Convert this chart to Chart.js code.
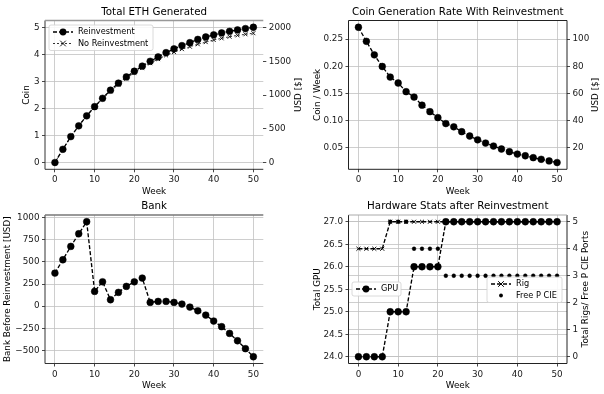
<!DOCTYPE html>
<html>
<head>
<meta charset="utf-8">
<script src="https://cdn.jsdelivr.net/npm/chart.js@4.4.0/dist/chart.umd.min.js"></script>
<style>
  html, body { margin: 0; padding: 0; background: #fff; }
  #wrap { position: relative; width: 604px; height: 394px; background: #fff; }
  canvas { position: absolute; }
</style>
</head>
<body>
<div id="wrap">
  <canvas id="ethChart" width="302" height="197" style="left:0;top:0"></canvas>
  <canvas id="rateChart" width="302" height="197" style="left:302px;top:0"></canvas>
  <canvas id="bankChart" width="302" height="197" style="left:0;top:197px"></canvas>
  <canvas id="hwChart" width="302" height="197" style="left:302px;top:197px"></canvas>
</div>
<script>
// ---- data ----
const weeks = [0, 2, 4, 6, 8, 10, 12, 14, 16, 18, 20, 22, 24, 26, 28, 30, 32, 34, 36, 38, 40, 42, 44, 46, 48, 50];

const ethReinvest = [0, 0.49, 0.96, 1.36, 1.73, 2.07, 2.38, 2.68, 2.94, 3.17, 3.38, 3.57, 3.75, 3.91, 4.07, 4.21,
  4.33, 4.44, 4.56, 4.65, 4.73, 4.80, 4.86, 4.91, 4.96, 5.01];
const ethNoReinvest = [0, 0.49, 0.96, 1.36, 1.72, 2.06, 2.36, 2.64, 2.89, 3.11, 3.33, 3.51, 3.68, 3.83, 3.97, 4.09,
  4.20, 4.29, 4.38, 4.46, 4.54, 4.60, 4.66, 4.71, 4.75, 4.79];

const rateReinvest = [0.272, 0.246, 0.221, 0.1995, 0.180, 0.169, 0.153, 0.143, 0.128, 0.116, 0.105, 0.094, 0.088,
  0.079, 0.071, 0.064, 0.058, 0.0525, 0.047, 0.042, 0.0377, 0.0345, 0.031, 0.028, 0.025, 0.022];

const bankUsd = [374, 525, 676, 819, 955, 167, 276, 73, 156, 224, 276, 318, 43, 54, 54, 43, 24, -10, -52, -101,
  -168, -232, -308, -391, -481, -572];

const gpuTotal = [24, 24, 24, 24, 25, 25, 25, 26, 26, 26, 26, 27, 27, 27, 27, 27, 27, 27, 27, 27, 27, 27, 27, 27, 27, 27];
const rigTotal = [4, 4, 4, 4, 5, 5, 5, 5, 5, 5, 5, 5, 5, 5, 5, 5, 5, 5, 5, 5, 5, 5, 5, 5, 5, 5];
const freePcie = [0, 0, 0, 0, 5, 5, 5, 4, 4, 4, 4, 3, 3, 3, 3, 3, 3, 3, 3, 3, 3, 3, 3, 3, 3, 3];

const usdPerEth = 400;

const weekTicks = [0, 10, 20, 30, 40, 50];
const coinTicks = [0, 1, 2, 3, 4, 5];
const usdTicks = [0, 500, 1000, 1500, 2000];
const rateTicks = [0.05, 0.10, 0.15, 0.20, 0.25];
const rateUsdTicks = [20, 40, 60, 80, 100];
const bankTicks = [-500, -250, 0, 250, 500, 750, 1000];
const gpuTicks = [24, 24.5, 25, 25.5, 26, 26.5, 27];
const rigTicks = [0, 1, 2, 3, 4, 5];

// ---- helpers ----
const FONT = "'DejaVu Sans', sans-serif";
const W = 302, H = 197;

function limits(...arrays) {
  const all = arrays.flat();
  const lo = Math.min(...all), hi = Math.max(...all);
  const m = (hi - lo) * 0.05;
  return [lo - m, hi + m];
}
function xy(vals) {
  return weeks.map((w, i) => ({ x: w, y: vals[i] }));
}
const plain = v => String(v);
const minus = v => (v < 0 ? '\u2212' + Math.abs(v) : String(v));

function axis(pos, ticks, lim, size, fmt, grid) {
  return {
    type: 'linear', position: pos, min: lim[0], max: lim[1],
    afterBuildTicks: s => { s.ticks = ticks.map(v => ({ value: v })); },
    afterFit: s => { if (s.isHorizontal()) s.height = size; else s.width = size; },
    grid: { display: true, drawOnChartArea: grid, color: '#c2c2c2', lineWidth: 0.8,
            tickLength: 3, tickColor: '#333', tickWidth: 0.9 },
    border: { display: false },
    ticks: { callback: fmt, font: { family: FONT, size: 8.8 }, color: '#1a1a1a',
             padding: 2.5, maxRotation: 0, autoSkip: false }
  };
}

function series(label, vals, extra) {
  return Object.assign({
    label: label, data: xy(vals), yAxisID: 'y',
    borderColor: '#000', backgroundColor: '#000', borderWidth: 1.35, borderDash: [4, 2],
    pointStyle: 'circle', pointRadius: 3.4, pointHoverRadius: 3.4,
    pointBackgroundColor: '#000', pointBorderColor: '#000', pointBorderWidth: 0.5, tension: 0
  }, extra || {});
}

function drawMarker(ctx, ds, x, y) {
  ctx.fillStyle = '#000';
  ctx.strokeStyle = '#000';
  const r = ds.pointRadius;
  ctx.beginPath();
  if (ds.pointStyle === 'crossRot') {
    ctx.lineWidth = ds.pointBorderWidth;
    ctx.setLineDash([]);
    ctx.moveTo(x - r, y - r); ctx.lineTo(x + r, y + r);
    ctx.moveTo(x - r, y + r); ctx.lineTo(x + r, y - r);
    ctx.stroke();
  } else {
    ctx.arc(x, y, r, 0, Math.PI * 2);
    ctx.fill();
  }
}

// title, axis labels, spines and in-plot legends, drawn like matplotlib
const decorPlugin = {
  id: 'decor',
  afterDraw(chart, args, o) {
    const ctx = chart.ctx;
    const a = chart.chartArea;
    ctx.save();

    // spines
    for (const side in o.spines) {
      const sp = o.spines[side];
      ctx.strokeStyle = sp[0];
      ctx.lineWidth = sp[1];
      ctx.setLineDash([]);
      ctx.beginPath();
      if (side === 'left') { ctx.moveTo(a.left, a.top); ctx.lineTo(a.left, a.bottom); }
      if (side === 'right') { ctx.moveTo(a.right, a.top); ctx.lineTo(a.right, a.bottom); }
      if (side === 'top') { ctx.moveTo(a.left, a.top); ctx.lineTo(a.right, a.top); }
      if (side === 'bottom') { ctx.moveTo(a.left, a.bottom); ctx.lineTo(a.right, a.bottom); }
      ctx.stroke();
    }

    const cx = (a.left + a.right) / 2, cy = (a.top + a.bottom) / 2;
    ctx.fillStyle = '#000';
    ctx.textAlign = 'center';
    ctx.textBaseline = 'middle';

    ctx.font = '10.3px ' + FONT;
    ctx.fillText(o.title, cx, a.top - 8.5);

    ctx.font = '8.8px ' + FONT;
    ctx.fillText('Week', cx, a.bottom + 22);

    ctx.save();
    ctx.translate(a.left - o.leftOff, cy);
    ctx.rotate(-Math.PI / 2);
    ctx.fillText(o.leftLabel, 0, 0);
    ctx.restore();

    if (o.rightLabel) {
      ctx.save();
      ctx.translate(a.right + o.rightOff, cy);
      ctx.rotate(-Math.PI / 2);
      ctx.fillText(o.rightLabel, 0, 0);
      ctx.restore();
    }

    // legends
    for (const lg of o.legends || []) {
      const h = 14 + (lg.items.length - 1) * 11.5;
      ctx.fillStyle = 'rgba(255,255,255,0.85)';
      ctx.strokeStyle = '#d0d0d0';
      ctx.lineWidth = 0.8;
      ctx.setLineDash([]);
      ctx.beginPath();
      ctx.roundRect(lg.x, lg.y, lg.w, h, 2);
      ctx.fill();
      ctx.stroke();
      lg.items.forEach((idx, i) => {
        const ds = chart.data.datasets[idx];
        const ry = lg.y + 7 + i * 11.5;
        const x0 = lg.x + 4, x1 = lg.x + 24;
        if (ds.showLine !== false) {
          ctx.strokeStyle = '#000';
          ctx.lineWidth = ds.borderWidth;
          ctx.setLineDash(ds.borderDash);
          ctx.beginPath();
          ctx.moveTo(x0, ry); ctx.lineTo(x1, ry);
          ctx.stroke();
        }
        drawMarker(ctx, ds, (x0 + x1) / 2, ry);
        ctx.fillStyle = '#000';
        ctx.textAlign = 'left';
        ctx.font = '8.2px ' + FONT;
        ctx.fillText(ds.label, lg.x + 29, ry);
      });
    }
    ctx.restore();
  }
};

function makeChart(id, area, datasets, scales, decor) {
  return new Chart(document.getElementById(id), {
    type: 'line',
    data: { datasets: datasets },
    options: {
      responsive: false,
      animation: false,
      events: [],
      layout: { padding: { top: area.t, left: 0, bottom: 0, right: scales.y2 ? 0 : W - area.r } },
      scales: scales,
      plugins: { legend: { display: false }, tooltip: { enabled: false }, decor: decor }
    },
    plugins: [decorPlugin]
  });
}

const weekLim = limits(weeks);
const fmt2 = v => v.toFixed(2);
const fmt1 = v => v.toFixed(1);

// ---- Total ETH Generated ----
const a1 = { l: 45, r: 263.3, t: 20.5, b: 169.3 };
const coinLim = limits(ethReinvest, ethNoReinvest);
makeChart('ethChart', a1, [
  series('Reinvestment', ethReinvest),
  series('No Reinvestment', ethNoReinvest, { borderWidth: 0.8, borderDash: [2, 2], pointStyle: 'crossRot',
    pointRadius: 2.8, pointBorderWidth: 0.9, pointBackgroundColor: 'rgba(0,0,0,0)' })
], {
  x: axis('bottom', weekTicks, weekLim, H - a1.b, plain, true),
  y: axis('left', coinTicks, coinLim, a1.l, plain, true),
  y2: axis('right', usdTicks, coinLim.map(v => v * usdPerEth), W - a1.r, plain, false)
}, {
  title: 'Total ETH Generated', leftLabel: 'Coin', leftOff: 18.4, rightLabel: 'USD [$]', rightOff: 35,
  spines: { left: ['#333', 1], bottom: ['#333', 1], top: ['#999', 1.6] },
  legends: [{ x: 49, y: 25, w: 104, items: [0, 1] }]
});

// ---- Coin Generation Rate With Reinvestment ----
const a2 = { l: 46.5, r: 265, t: 20.5, b: 169.3 };
const rateLim = limits(rateReinvest);
makeChart('rateChart', a2, [
  series('Reinvestment', rateReinvest)
], {
  x: axis('bottom', weekTicks, weekLim, H - a2.b, plain, true),
  y: axis('left', rateTicks, rateLim, a2.l, fmt2, true),
  y2: axis('right', rateUsdTicks, rateLim.map(v => v * usdPerEth), W - a2.r, plain, false)
}, {
  title: 'Coin Generation Rate With Reinvestment', leftLabel: 'Coin / Week', leftOff: 31,
  rightLabel: 'USD [$]', rightOff: 28.3,
  spines: { left: ['#222', 1], bottom: ['#222', 1], top: ['#222', 1], right: ['#222', 1] }
});

// ---- Bank ----
const a3 = { l: 45, r: 263.3, t: 18, b: 166.5 };
makeChart('bankChart', a3, [
  series('Bank', bankUsd)
], {
  x: axis('bottom', weekTicks, weekLim, H - a3.b, plain, true),
  y: axis('left', bankTicks, limits(bankUsd), a3.l, minus, true)
}, {
  title: 'Bank', leftLabel: 'Bank Before Reinvestment [USD]', leftOff: 37.7,
  spines: { left: ['#333', 1], bottom: ['#333', 1], top: ['#777', 1.5] }
});

// ---- Hardware Stats after Reinvestment ----
const a4 = { l: 46.5, r: 265, t: 18, b: 166.5 };
makeChart('hwChart', a4, [
  series('GPU', gpuTotal),
  series('Rig', rigTotal, { yAxisID: 'y2', pointStyle: 'crossRot', pointRadius: 2.8, pointBorderWidth: 1,
    pointBackgroundColor: 'rgba(0,0,0,0)' }),
  series('Free P CIE', freePcie, { yAxisID: 'y2', showLine: false, pointRadius: 1.9 })
], {
  x: axis('bottom', weekTicks, weekLim, H - a4.b, plain, true),
  y: axis('left', gpuTicks, limits(gpuTotal), a4.l, fmt1, true),
  y2: axis('right', rigTicks, limits(rigTotal, freePcie), W - a4.r, plain, true)
}, {
  title: 'Hardware Stats after Reinvestment', leftLabel: 'Total GPU', leftOff: 31,
  rightLabel: 'Total Rigs/ Free P CIE Ports', rightOff: 18.3,
  spines: { left: ['#222', 1], bottom: ['#222', 1], right: ['#222', 1], top: ['#aaa', 1] },
  legends: [{ x: 50, y: 85, w: 49, items: [0] }, { x: 185, y: 80, w: 75, items: [1, 2] }]
});
</script>
</body>
</html>
